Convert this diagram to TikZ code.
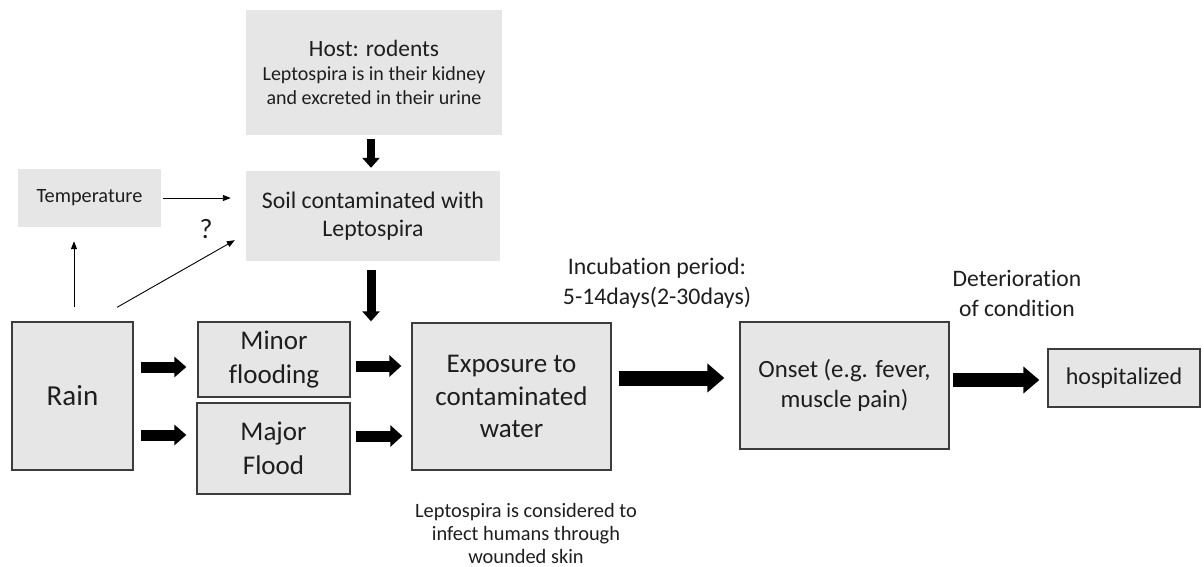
\documentclass[tikz,border=0pt]{standalone}
\usepackage{fontspec}
\setmainfont{Carlito}[Ligatures=NoCommon]
\usetikzlibrary{arrows.meta}
\definecolor{boxgray}{HTML}{E6E6E6}
\definecolor{edgegray}{HTML}{3C3C3C}
\definecolor{inkgray}{HTML}{1E1E1E}
\tikzset{
  box/.style={fill=boxgray, draw=edgegray, line width=1.3pt, align=center, inner sep=0pt, text=inkgray},
  plain/.style={fill=boxgray, align=center, inner sep=0pt, text=inkgray},
  thin/.style={line width=0.9pt, -{Triangle[length=8pt,width=6pt]}},
}
\newcommand{\smalltxt}{\fontsize{20}{24}\selectfont}
\begin{document}
\begin{tikzpicture}[x=1pt,y=-1pt]
\useasboundingbox (0,0) rectangle (1204,567);
% upper part
\node[plain, minimum width=256pt, minimum height=125pt, font=\fontsize{23.4}{27}\selectfont] (host) at (374,72.5)
  {Host: rodents\\[-3pt] \smalltxt Leptospira is in their kidney\\[-3pt] \smalltxt and excreted in their urine};
\node[plain, minimum width=143pt, minimum height=58pt, font=\fontsize{20.3}{24}\selectfont] (temp) at (89.5,198) {Temperature};
\node[plain, minimum width=254pt, minimum height=90pt, font=\fontsize{23.8}{28.3}\selectfont] (soil) at (373,216) {Soil contaminated with\\ Leptospira};
\node[text=inkgray, font=\fontsize{28}{30}\selectfont] (q) at (206,229) {?};
% main row
\node[box, minimum width=121pt, minimum height=148pt, font=\fontsize{29}{34}\selectfont] (rain) at (72.5,396) {Rain};
\node[box, minimum width=152pt, minimum height=75pt, font=\fontsize{27}{34}\selectfont] (minor) at (274,359.5) {Minor\\ flooding};
\node[box, minimum width=153pt, minimum height=91pt, font=\fontsize{27}{34}\selectfont] (major) at (273.5,448.5) {Major\\ Flood};
\node[box, minimum width=199pt, minimum height=147pt, font=\fontsize{27}{32.5}\selectfont] (expo) at (511.5,396.5) {Exposure to\\ contaminated\\ water};
\node[box, minimum width=209pt, minimum height=127pt, font=\fontsize{24.8}{30}\selectfont] (onset) at (844.5,385.5) {Onset (e.g. fever,\\ muscle pain)};
\node[box, minimum width=152pt, minimum height=58pt, font=\fontsize{24}{28}\selectfont] (hosp) at (1124,378) {hospitalized};
% labels
\node[align=center, text=inkgray, font=\fontsize{23.8}{30}\selectfont] (incub) at (657,283) {Incubation period:\\ 5-14days(2-30days)};
\node[align=center, text=inkgray, font=\fontsize{23.6}{30}\selectfont] (deter) at (1017,293) {Deterioration\\ of condition};
\node[align=center, text=inkgray, font=\fontsize{20.4}{23}\selectfont] (note) at (526,533) {Leptospira is considered to\\ infect humans through\\ wounded skin};
% thin arrows
\draw[thin, shorten <=2pt, shorten >=15pt] (temp.east) -- (temp.east -| soil.west);
\draw[thin, shorten <=14pt, shorten >=14pt] ([xshift=1.5pt]rain.north) -- ([xshift=1.5pt]rain.north |- temp.south);
\draw[thin] ([xshift=44.5pt,yshift=14pt]rain.north) -- ([xshift=-11pt,yshift=21pt]soil.south west);
% block arrows
\draw[line width=8pt, -{Triangle[length=10pt,width=17pt]}, shorten <=4pt, shorten >=3pt] ([xshift=-3pt]host.south) -- ([xshift=-3pt]host.south |- soil.north);
\draw[line width=9pt, -{Triangle[length=10pt,width=17pt]}, shorten <=9pt, shorten >=1pt] ([xshift=-2pt]soil.south) -- ([xshift=-2pt]soil.south |- expo.north);
\draw[line width=11pt, -{Triangle[length=12pt,width=20pt]}, shorten <=7pt, shorten >=11pt] ([yshift=29pt]rain.east) -- ([yshift=29pt]rain.east -| minor.west);
\draw[line width=11pt, -{Triangle[length=12pt,width=20pt]}, shorten <=7pt, shorten >=10pt] ([yshift=-39pt]rain.east) -- ([yshift=-39pt]rain.east -| major.west);
\draw[line width=11pt, -{Triangle[length=12pt,width=21pt]}, shorten <=5pt, shorten >=10pt] ([yshift=-6.5pt]minor.east) -- ([yshift=-6.5pt]minor.east -| expo.west);
\draw[line width=11pt, -{Triangle[length=12pt,width=21pt]}, shorten <=5pt, shorten >=9pt] ([yshift=12.5pt]major.east) -- ([yshift=12.5pt]major.east -| expo.west);
\draw[line width=15pt, -{Triangle[length=17pt,width=28pt]}, shorten <=7pt, shorten >=15pt] ([yshift=18.5pt]expo.east) -- ([yshift=18.5pt]expo.east -| onset.west);
\draw[line width=14pt, -{Triangle[length=16pt,width=26pt]}, shorten <=3pt, shorten >=8pt] ([yshift=5.5pt]onset.east) -- ([yshift=5.5pt]onset.east -| hosp.west);
\end{tikzpicture}
\end{document}
